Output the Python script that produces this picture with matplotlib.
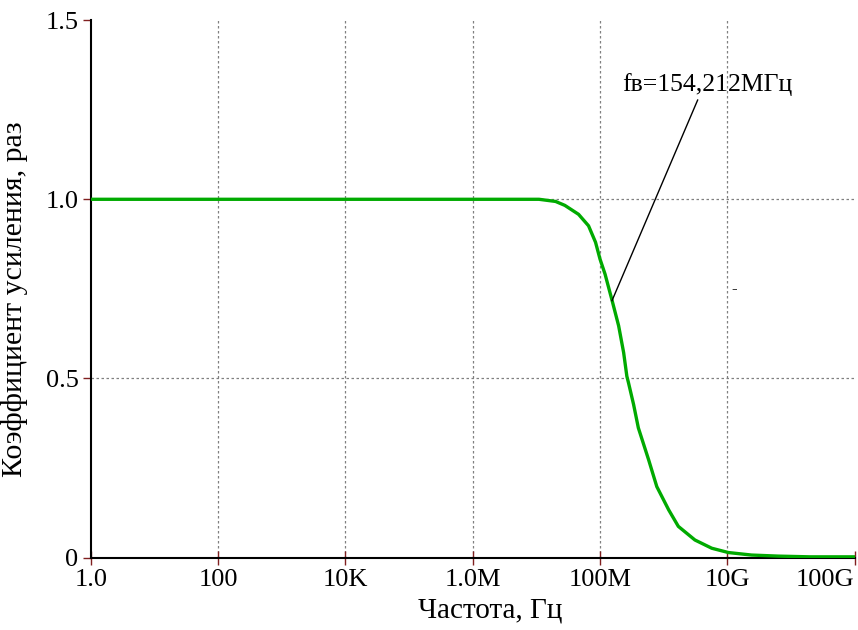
import matplotlib
matplotlib.use("Agg")
import matplotlib.pyplot as plt
from matplotlib.ticker import FixedLocator, NullLocator

plt.rcParams['font.family'] = ['Liberation Serif', 'DejaVu Serif']

# Data
freq = [1.0, 1.0e3, 1.0e6, 1.1e7, 2.0e7, 2.8e7, 4.6e7, 6.6e7, 8.5e7, 1.0e8, 1.2e8,
        1.55e8, 1.96e8, 2.35e8, 2.64e8, 2.8e8, 3.37e8, 4.0e8, 5.8e8, 7.8e8,
        1.2e9, 1.7e9, 3.1e9, 5.7e9, 1.04e10, 2.4e10, 6.3e10, 2.0e11, 1.0e12]
gain = [1.0, 1.0, 1.0, 1.0, 0.994, 0.983, 0.958, 0.926, 0.880, 0.833, 0.791,
        0.717, 0.647, 0.572, 0.506, 0.488, 0.427, 0.362, 0.273, 0.198,
        0.133, 0.087, 0.049, 0.026, 0.014, 0.007, 0.004, 0.002, 0.002]

xticks = [1.0, 1e2, 1e4, 1e6, 1e8, 1e10, 1e12]
xticklabels = ["1.0", "100", "10K", "1.0M", "100M", "10G", "100G"]
yticks = [0, 0.5, 1.0, 1.5]
yticklabels = ["0", "0.5", "1.0", "1.5"]

fB = 154.212e6
fB_gain = 0.717
line_top = (3.42e9, 1.277)
note_pos = (4.86e9, 1.302)
note_text = "fв=154,212МГц"

fig = plt.figure(figsize=(8.58, 6.30), dpi=100)
ax = fig.add_axes([0.106, 0.115, 0.890, 0.853])

ax.set_xscale('log')
ax.set_xlim(1.0, 1e12)
ax.set_ylim(0, 1.5)

# grid
for xv in xticks[1:-1]:
    ax.axvline(xv, color='#808080', lw=0.9, ls=(0, (2, 2)), zorder=1)
for yv in [0.5, 1.0]:
    ax.axhline(yv, color='#808080', lw=0.9, ls=(0, (2, 2)), zorder=1)

ax.plot(freq, gain, color='#00AA00', lw=2.4, zorder=3, solid_joinstyle='round')

ax.xaxis.set_major_locator(FixedLocator(xticks))
ax.xaxis.set_minor_locator(NullLocator())
ax.set_xticklabels(xticklabels)
ax.set_yticks(yticks)
ax.set_yticklabels(yticklabels)

for s in ['top', 'right']:
    ax.spines[s].set_visible(False)
for s in ['left', 'bottom']:
    ax.spines[s].set_linewidth(1.5)
    ax.spines[s].set_color('black')

ax.tick_params(axis='x', direction='inout', length=10, width=1.0, color='#802020',
               labelsize=19, pad=3)
ax.tick_params(axis='y', direction='out', length=6, width=1.0, color='#802020',
               labelsize=19, pad=3)
lbls = ax.get_xticklabels()
lbls[-1].set_horizontalalignment('right')

ax.set_xlabel("Частота, Гц", fontsize=21, labelpad=0)
ax.xaxis.set_label_coords((490 - 91) / 764.0, -0.075)
ax.set_ylabel("Коэффициент усиления, раз", fontsize=21.5)
ax.yaxis.set_label_coords(-0.082, (557.7 - 299) / 537.7)

ax.plot([fB, line_top[0]], [fB_gain, line_top[1]], color='black', lw=1.0, zorder=4)
ax.text(note_pos[0], note_pos[1], note_text, fontsize=18.5, ha='center', va='baseline')

ax.text(1.28e10, 0.75, "-", fontsize=12, ha='center', va='center')

fig.savefig("out.png", dpi=100)
